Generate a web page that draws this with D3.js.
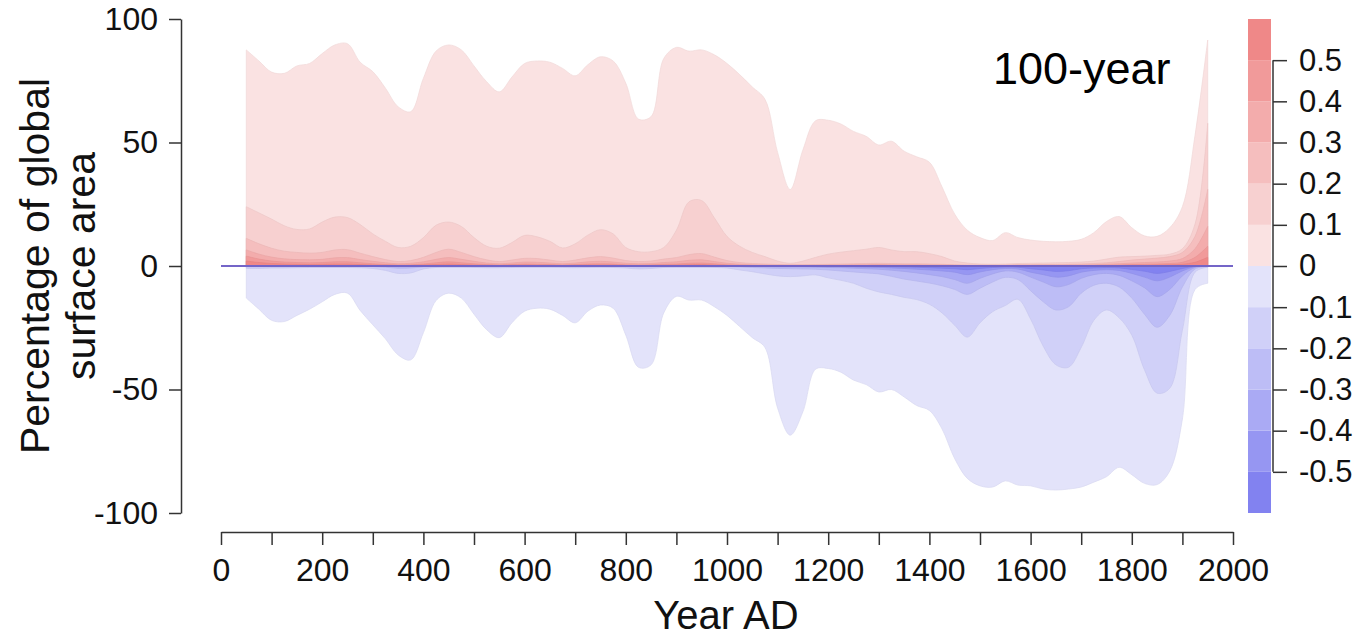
<!DOCTYPE html>
<html lang="en">
<head>
    <meta charset="UTF-8">
    <title>100-year temperature anomaly area</title>
    <script src="https://d3js.org/d3.v7.min.js"></script>
    <style>
        body { margin: 0; background: #fff; }
        svg { display: block; font-family: "Liberation Sans", Arial, sans-serif; }
    </style>
</head>
<body>
<div id="chart"></div>
<script>
    // years (centre of 100-year windows)
    const years = [50, 75, 100, 125, 150, 175, 200, 225, 250, 275,
        300, 325, 350, 375, 400, 425, 450, 475, 500, 525,
        550, 575, 600, 625, 650, 675, 700, 725, 750, 775,
        800, 825, 850, 875, 900, 925, 950, 975, 1000, 1025,
        1050, 1075, 1100, 1125, 1150, 1175, 1200, 1225, 1250, 1275,
        1300, 1325, 1350, 1375, 1400, 1425, 1450, 1475, 1500, 1525,
        1550, 1575, 1600, 1625, 1650, 1675, 1700, 1725, 1750, 1775,
        1800, 1825, 1850, 1875, 1900, 1925, 1950];

    // % of surface area warmer than 0, 0.1, ... 0.5
    const above00 = [87.5, 83, 78.5, 78, 81, 82, 86, 89.5, 90, 82.5,
        78.7, 72, 64.5, 62.5, 76, 87, 89.5, 87.5, 81, 74.6,
        70.5, 76.5, 82, 83, 82.5, 80, 77, 81.5, 84.7, 83,
        74, 59.5, 60.5, 84, 88.5, 87, 87.5, 85.5, 82, 77.5,
        72.5, 67.5, 46, 31, 47, 58.8, 59, 57.5, 54.5, 52.5,
        49, 50.5, 46.5, 44.2, 42, 32, 21, 14.5, 11.5, 10.3,
        13.5, 11.5, 10.5, 10, 9.8, 10, 10.8, 13.5, 18, 20,
        15.5, 12.2, 12, 15.5, 24, 53, 91.5];
    const above01 = [24, 21.5, 19, 16.3, 14.8, 15, 17.8, 19.8, 19.6, 16.8,
        13, 10, 7.5, 8, 11.5, 16.5, 17.8, 16, 11.5, 8,
        7.2, 9.5, 12.4, 11.8, 10, 7.3, 9, 12.5, 14.7, 13,
        7.5, 5.8, 5.8, 7.5, 14.5, 26, 26.5, 19.5, 12, 8,
        5.5, 3.8, 2, 1.1, 2, 3.5, 4.8, 5.6, 6.2, 6.8,
        7.5, 6.5, 5.8, 5.8, 5, 3.8, 2, 1.2, 0.8, 0.7,
        0.8, 1, 1.1, 1.2, 1.3, 1.4, 1.6, 2, 2.8, 3.6,
        3.8, 4, 4.3, 4.8, 7, 17, 57.8];
    const above02 = [11.2, 9, 7.2, 6, 5.5, 5.2, 5.5, 6.5, 6.6, 5.2,
        3.8, 2.6, 1.8, 2.2, 3.5, 5.5, 6.8, 5.5, 3.8, 2.5,
        1.8, 2.4, 3.1, 3, 2.4, 1.8, 2.4, 3.3, 3.8, 3.2,
        2.2, 1.8, 2, 2.8, 3.4, 4.6, 5, 3.6, 2.2, 1.4,
        1, 0.8, 0.6, 0.5, 0.5, 0.6, 0.7, 0.8, 0.9, 1,
        1.1, 1, 0.9, 0.9, 0.8, 0.7, 0.5, 0.4, 0.4, 0.4,
        0.4, 0.5, 0.5, 0.6, 0.6, 0.7, 0.8, 1, 1.3, 1.8,
        2.4, 2.8, 3.2, 3.8, 5.5, 12, 31];
    const above03 = [6.5, 4.8, 3.6, 2.9, 2.6, 2.5, 2.7, 3.3, 3.4, 2.6,
        1.9, 1.3, 0.9, 1.1, 1.7, 2.7, 3.4, 2.7, 1.9, 1.2,
        0.9, 1.2, 1.6, 1.5, 1.2, 0.9, 1.2, 1.7, 1.9, 1.6,
        1.1, 0.9, 1, 1.4, 1.7, 2.3, 2.5, 1.8, 1.1, 0.7,
        0.5, 0.4, 0.3, 0.3, 0.3, 0.3, 0.4, 0.4, 0.5, 0.5,
        0.6, 0.5, 0.5, 0.5, 0.4, 0.4, 0.3, 0.2, 0.2, 0.2,
        0.2, 0.3, 0.3, 0.3, 0.3, 0.4, 0.4, 0.5, 0.7, 0.9,
        1.2, 1.4, 1.6, 2, 3, 7, 16];
    const above04 = [4, 2.8, 2, 1.6, 1.4, 1.3, 1.4, 1.7, 1.7, 1.3,
        0.9, 0.6, 0.4, 0.5, 0.8, 1.3, 1.7, 1.3, 0.9, 0.6,
        0.4, 0.6, 0.8, 0.7, 0.6, 0.4, 0.6, 0.8, 0.9, 0.8,
        0.5, 0.4, 0.5, 0.7, 0.8, 1.1, 1.2, 0.9, 0.5, 0.3,
        0.2, 0.2, 0.2, 0.2, 0.2, 0.2, 0.2, 0.2, 0.2, 0.2,
        0.3, 0.2, 0.2, 0.2, 0.2, 0.2, 0.1, 0.1, 0.1, 0.1,
        0.1, 0.1, 0.1, 0.1, 0.1, 0.2, 0.2, 0.2, 0.3, 0.4,
        0.6, 0.7, 0.8, 1, 1.5, 3.5, 8];
    const above05 = [2, 1.4, 1, 0.8, 0.7, 0.6, 0.7, 0.8, 0.8, 0.6,
        0.4, 0.3, 0.2, 0.2, 0.4, 0.6, 0.8, 0.6, 0.4, 0.3,
        0.2, 0.3, 0.4, 0.3, 0.3, 0.2, 0.3, 0.4, 0.4, 0.4,
        0.2, 0.2, 0.2, 0.3, 0.4, 0.5, 0.6, 0.4, 0.2, 0.1,
        0.1, 0.1, 0.1, 0.1, 0.1, 0.1, 0.1, 0.1, 0.1, 0.1,
        0.1, 0.1, 0.1, 0.1, 0.1, 0.1, 0.1, 0.1, 0.1, 0.1,
        0.1, 0.1, 0.1, 0.1, 0.1, 0.1, 0.1, 0.1, 0.1, 0.2,
        0.3, 0.3, 0.4, 0.5, 0.7, 1.5, 3.5];

    // % of surface area colder than 0, -0.1, ... -0.5 (plotted negative)
    const below00 = [-13, -17.5, -22, -22.5, -20, -17.5, -14.5, -11.5, -11, -18,
        -23.8, -29.5, -36, -38, -27, -14, -11, -13, -19.5, -25.8,
        -29, -23, -18.3, -17.1, -17.5, -20, -23, -18.3, -15.8, -17.1,
        -28, -41, -40, -19, -12.3, -13.8, -13.8, -16.5, -20, -24.5,
        -29, -33, -57.5, -68.5, -59, -41.8, -41.5, -43, -46.2, -48,
        -51, -50, -53, -56.5, -58.5, -66, -78, -86, -89, -89.5,
        -87, -88.7, -89, -90.3, -90.7, -90.3, -89.5, -87.5, -85.3, -81.5,
        -84.5, -88, -88.5, -83, -62, -9.5, -7];
    const below01 = [-1, -1, -0.8, -0.8, -0.7, -0.6, -0.6, -0.6, -0.6, -0.7,
        -1, -1.8, -3, -2.8, -1.2, -0.6, -0.5, -0.5, -0.6, -0.7,
        -0.7, -0.6, -0.5, -0.5, -0.5, -0.6, -0.7, -0.6, -0.5, -0.6,
        -0.8, -1.2, -1, -0.6, -0.5, -0.5, -0.5, -0.6, -0.8, -1.6,
        -2.3, -3.2, -4, -4.3, -4, -3.6, -4.8, -5.8, -7, -9,
        -10.5, -11.5, -12.7, -13.6, -15.5, -19, -24, -28.8, -23, -18.5,
        -16, -13.5, -21.5, -32.5, -40, -41, -33, -22, -17.8, -21,
        -28, -42, -51.5, -49.5, -26, -2.5, -0.5];
    const below02 = [-0.3, -0.3, -0.3, -0.3, -0.3, -0.3, -0.3, -0.3, -0.3, -0.3,
        -0.3, -0.5, -0.9, -0.8, -0.4, -0.3, -0.3, -0.3, -0.3, -0.3,
        -0.3, -0.3, -0.3, -0.3, -0.3, -0.3, -0.3, -0.3, -0.3, -0.3,
        -0.3, -0.4, -0.4, -0.3, -0.3, -0.3, -0.3, -0.3, -0.3, -0.4,
        -0.6, -0.8, -1, -1.1, -1.2, -1.3, -1.6, -2, -2.4, -2.8,
        -3.2, -4.2, -5.3, -6.1, -6.9, -8, -9.5, -11.5, -9, -6.5,
        -4.6, -5.5, -10, -14.5, -17.8, -16.5, -11, -7.8, -7, -8.5,
        -13, -19.5, -24.8, -20, -8.5, -1.2, -0.3];
    const below03 = [-0.1, -0.1, -0.1, -0.1, -0.1, -0.1, -0.1, -0.1, -0.1, -0.1,
        -0.1, -0.2, -0.3, -0.3, -0.1, -0.1, -0.1, -0.1, -0.1, -0.1,
        -0.1, -0.1, -0.1, -0.1, -0.1, -0.1, -0.1, -0.1, -0.1, -0.1,
        -0.1, -0.1, -0.1, -0.1, -0.1, -0.1, -0.1, -0.1, -0.1, -0.1,
        -0.2, -0.3, -0.4, -0.4, -0.4, -0.5, -0.6, -0.7, -0.9, -1.1,
        -1.3, -1.7, -2.2, -2.8, -3.5, -4.3, -5.5, -7, -5, -3.2,
        -2, -2.5, -4.5, -6.5, -8.4, -7.5, -5, -3.5, -3, -3.8,
        -6, -8.8, -12.4, -9.5, -4, -0.6, -0.1];
    const below04 = [0, 0, 0, 0, 0, 0, 0, 0, 0, 0,
        0, 0, -0.1, -0.1, 0, 0, 0, 0, 0, 0,
        0, 0, 0, 0, 0, 0, 0, 0, 0, 0,
        0, 0, 0, 0, 0, 0, 0, 0, 0, 0,
        -0.1, -0.1, -0.2, -0.2, -0.2, -0.2, -0.3, -0.3, -0.4, -0.5,
        -0.6, -0.8, -1, -1.3, -1.6, -2, -2.5, -3.5, -2.4, -1.5,
        -1, -1.2, -2.5, -3.5, -4.5, -4, -2.5, -1.8, -1.5, -1.8,
        -3, -4.5, -6, -4.5, -2, -0.3, -0.1];
    const below05 = [0, 0, 0, 0, 0, 0, 0, 0, 0, 0,
        0, 0, 0, 0, 0, 0, 0, 0, 0, 0,
        0, 0, 0, 0, 0, 0, 0, 0, 0, 0,
        0, 0, 0, 0, 0, 0, 0, 0, 0, 0,
        0, 0, -0.1, -0.1, -0.1, -0.1, -0.1, -0.1, -0.1, -0.1,
        -0.2, -0.3, -0.4, -0.5, -0.7, -0.9, -1.1, -1.5, -1, -0.6,
        -0.4, -0.5, -1.1, -1.6, -2.2, -1.9, -1.1, -0.8, -0.7, -0.8,
        -1.4, -2.1, -3, -2.2, -1, -0.1, 0];

    const warmLevels = [above00, above01, above02, above03, above04, above05];
    const coldLevels = [below00, below01, below02, below03, below04, below05];

    // colour bar classes, from -0.6 up to 0.6
    const classEdges = [-0.6, -0.5, -0.4, -0.3, -0.2, -0.1, 0, 0.1, 0.2, 0.3, 0.4, 0.5, 0.6];
    const warmColors = ['#fae2e2', '#f7d0d0', '#f5bebe', '#f3acac', '#f19a9a', '#ef8888'];
    const coldColors = ['#e3e3fa', '#d0d0f8', '#bdbdf6', '#aaaaf4', '#9696f2', '#8282f0'];
    const barTicks = [0.5, 0.4, 0.3, 0.2, 0.1, 0, -0.1, -0.2, -0.3, -0.4, -0.5];

    const yTicks = [-100, -50, 0, 50, 100];
    const xTicks = [0, 100, 200, 300, 400, 500, 600, 700, 800, 900, 1000,
        1100, 1200, 1300, 1400, 1500, 1600, 1700, 1800, 1900, 2000];

    const W = 1359, H = 639;
    const svg = d3.select('#chart').append('svg')
        .attr('width', W)
        .attr('height', H);

    const x = d3.scaleLinear().domain([0, 2000]).range([221, 1233]);
    const y = d3.scaleLinear().domain([-100, 100]).range([513, 19]);

    // one filled band per threshold, outermost first
    function drawLevels(levels, colors) {
        levels.forEach((vals, i) => {
            const area = d3.area()
                .x((d, j) => x(years[j]))
                .y0(y(0))
                .y1(d => y(d))
                .curve(d3.curveCatmullRom.alpha(0.5));
            svg.append('path')
                .datum(vals)
                .attr('d', area)
                .attr('fill', colors[i])
                .attr('stroke', d3.color(colors[i]).darker(0.12))
                .attr('stroke-width', 0.7);
        });
    }
    drawLevels(warmLevels, warmColors);
    drawLevels(coldLevels, coldColors);

    // zero line
    svg.append('line')
        .attr('x1', x(0)).attr('x2', x(2000))
        .attr('y1', y(0)).attr('y2', y(0))
        .attr('stroke', '#7465c8')
        .attr('stroke-width', 2);

    // y axis
    const yAxis = svg.append('g')
        .attr('transform', 'translate(181,0)')
        .call(d3.axisLeft(y).tickValues(yTicks).tickSize(12).tickSizeOuter(0)
            .tickPadding(11).tickFormat(d => String(d)));

    // x axis
    const xAxis = svg.append('g')
        .attr('transform', 'translate(0,532)')
        .call(d3.axisBottom(x).tickValues(xTicks).tickSize(13).tickSizeOuter(0)
            .tickPadding(13).tickFormat(d => d % 200 === 0 ? String(d) : ''));

    [yAxis, xAxis].forEach(g => {
        g.selectAll('text').style('font-size', '32px').attr('fill', '#111');
        g.selectAll('line').attr('stroke', '#333').attr('stroke-width', 1.5);
        g.select('.domain').attr('stroke', '#333').attr('stroke-width', 1.5);
    });

    // axis titles
    svg.append('text')
        .attr('x', 726).attr('y', 629)
        .attr('text-anchor', 'middle')
        .style('font-size', '40px')
        .attr('fill', '#111')
        .text('Year AD');

    const yTitle = svg.append('text')
        .attr('transform', 'translate(0,266) rotate(-90)')
        .attr('text-anchor', 'middle')
        .style('font-size', '41px')
        .attr('fill', '#111');
    yTitle.append('tspan').attr('x', 0).attr('y', 49).text('Percentage of global');
    yTitle.append('tspan').attr('x', 0).attr('y', 95).text('surface area');

    svg.append('text')
        .attr('x', 993).attr('y', 84)
        .style('font-size', '45px')
        .attr('fill', '#000')
        .text('100-year');

    // colour bar
    const cb = d3.scaleLinear().domain([-0.6, 0.6]).range([513, 19]);
    const cbClasses = d3.pairs(classEdges);
    svg.append('g').selectAll('rect')
        .data(cbClasses)
        .join('rect')
        .attr('x', 1248)
        .attr('width', 23)
        .attr('y', d => cb(d[1]))
        .attr('height', d => cb(d[0]) - cb(d[1]))
        .attr('fill', d => d[0] >= 0 ? warmColors[Math.round(d[0] * 10)] : coldColors[Math.round(-d[1] * 10)]);

    const cbAxis = svg.append('g')
        .attr('transform', 'translate(1273,0)')
        .call(d3.axisRight(cb).tickValues(barTicks).tickSize(14).tickPadding(12)
            .tickFormat(d => String(+d.toFixed(1))));
    cbAxis.select('.domain').remove();
    cbAxis.append('line')
        .attr('y1', cb(0.5)).attr('y2', cb(-0.5))
        .attr('stroke', '#333').attr('stroke-width', 1.5);
    cbAxis.selectAll('.tick line').attr('stroke', '#333').attr('stroke-width', 1.5);
    cbAxis.selectAll('text').style('font-size', '31px').attr('fill', '#111');
</script>
</body>
</html>
